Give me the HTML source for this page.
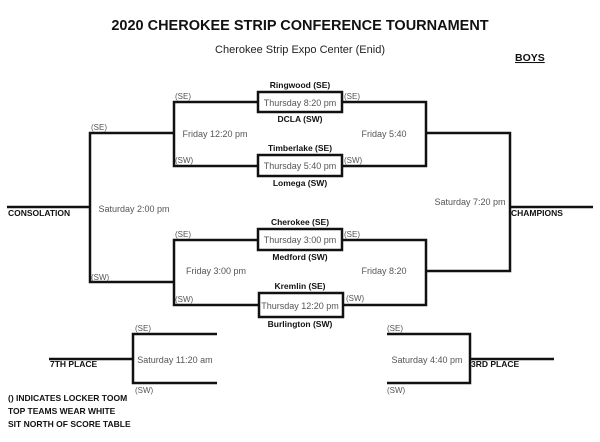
<!DOCTYPE html><html><head><style>
body{margin:0;width:600px;height:437px;background:#fff;overflow:hidden}
svg text{font-family:"Liberation Sans",sans-serif}
.b{font-weight:bold;font-size:8.5px;fill:#111}
.g{font-size:9px;fill:#555}
.s{font-size:8px;fill:#555}
</style></head><body>
<svg width="600" height="437" xmlns="http://www.w3.org/2000/svg">
<text x="300" y="30" text-anchor="middle" font-weight="bold" font-size="14.5" fill="#111">2020 CHEROKEE STRIP CONFERENCE TOURNAMENT</text>
<text x="300" y="53" text-anchor="middle" font-size="11" fill="#222">Cherokee Strip Expo Center (Enid)</text>
<text x="515" y="61" font-weight="bold" font-size="10.5" fill="#111" text-decoration="underline">BOYS</text>
<g stroke="#111" stroke-width="2.5" fill="none">
<polyline points="7,207 90,207"/>
<polyline points="174,133 90,133 90,282 174,282"/>
<polyline points="258,102 174,102 174,166 258,166"/>
<polyline points="258,240 174,240 174,305 258,305"/>
<polyline points="342,102 426,102 426,166 342,166"/>
<polyline points="342,240 426,240 426,305 342,305"/>
<polyline points="426,133 510,133 510,271 426,271"/>
<polyline points="510,207 593,207"/>
<rect x="258" y="92" width="84" height="20"/>
<rect x="258" y="155" width="84" height="21"/>
<rect x="258" y="229" width="84" height="21"/>
<rect x="259" y="293" width="84" height="24"/>
<polyline points="49,359 133,359"/>
<polyline points="217,334 133,334 133,383 217,383"/>
<polyline points="387,334 470,334 470,383 387,383"/>
<polyline points="470,359 554,359"/>
</g>
<text class="b" x="8" y="216">CONSOLATION</text>
<text class="b" x="511" y="216">CHAMPIONS</text>
<text class="b" x="50" y="367">7TH PLACE</text>
<text class="b" x="471" y="367">3RD PLACE</text>
<g text-anchor="middle">
<text class="b" x="300" y="88">Ringwood (SE)</text>
<text class="b" x="300" y="122">DCLA (SW)</text>
<text class="b" x="300" y="151">Timberlake (SE)</text>
<text class="b" x="300" y="186">Lomega (SW)</text>
<text class="b" x="300" y="225">Cherokee (SE)</text>
<text class="b" x="300" y="260">Medford (SW)</text>
<text class="b" x="300" y="289">Kremlin (SE)</text>
<text class="b" x="300" y="327">Burlington (SW)</text>
<text class="g" x="300" y="106">Thursday 8:20 pm</text>
<text class="g" x="300" y="169">Thursday 5:40 pm</text>
<text class="g" x="300" y="243">Thursday 3:00 pm</text>
<text class="g" x="300" y="309">Thursday 12:20 pm</text>
<text class="g" x="215" y="137">Friday 12:20 pm</text>
<text class="g" x="216" y="274">Friday 3:00 pm</text>
<text class="g" x="384" y="137">Friday 5:40</text>
<text class="g" x="384" y="274">Friday 8:20</text>
<text class="g" x="134" y="212">Saturday 2:00 pm</text>
<text class="g" x="470" y="205">Saturday 7:20 pm</text>
<text class="g" x="175" y="363">Saturday 11:20 am</text>
<text class="g" x="427" y="363">Saturday 4:40 pm</text>
</g>
<text class="s" x="91" y="130">(SE)</text>
<text class="s" x="91" y="280">(SW)</text>
<text class="s" x="175" y="99">(SE)</text>
<text class="s" x="175" y="163">(SW)</text>
<text class="s" x="175" y="237">(SE)</text>
<text class="s" x="175" y="302">(SW)</text>
<text class="s" x="344" y="99">(SE)</text>
<text class="s" x="344" y="163">(SW)</text>
<text class="s" x="344" y="237">(SE)</text>
<text class="s" x="346" y="301">(SW)</text>
<text class="s" x="135" y="331">(SE)</text>
<text class="s" x="135" y="393">(SW)</text>
<text class="s" x="387" y="331">(SE)</text>
<text class="s" x="387" y="393">(SW)</text>
<text class="b" x="8" y="401">() INDICATES LOCKER TOOM</text>
<text class="b" x="8" y="414">TOP TEAMS WEAR WHITE</text>
<text class="b" x="8" y="427">SIT NORTH OF SCORE TABLE</text>
</svg>
</body></html>
